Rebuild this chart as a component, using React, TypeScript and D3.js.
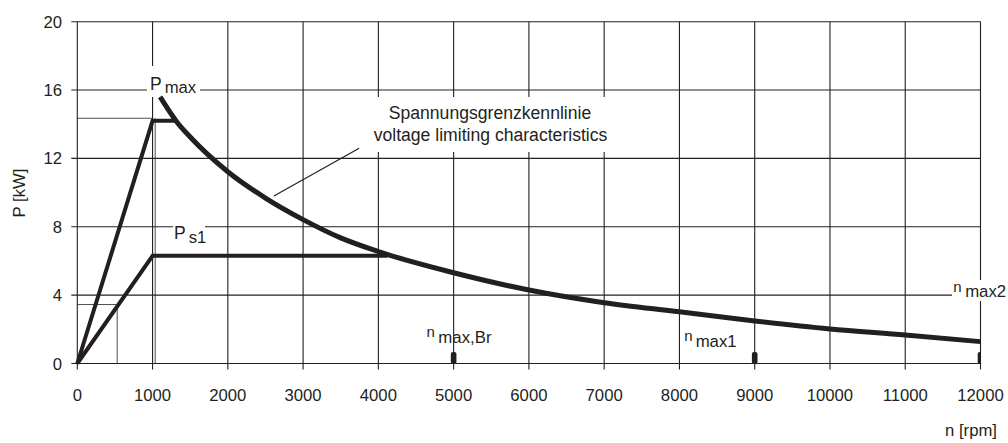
import React from 'react';
import * as d3 from 'd3';

// axis ticks
const xTicks = [0, 1000, 2000, 3000, 4000, 5000, 6000, 7000, 8000, 9000, 10000, 11000, 12000];
const yTicks = [0, 4, 8, 12, 16, 20];

// voltage limiting characteristic
const limitN = [1100, 1320, 1500, 2000, 2500, 3000, 3500, 4000, 5000, 6000, 7000, 8000, 9000, 10000, 11000, 12000];
const limitP = [15.6, 14.15, 13.25, 11.22, 9.68, 8.42, 7.35, 6.55, 5.31, 4.3, 3.56, 3.03, 2.49, 2.02, 1.67, 1.28];

// P max and P s1 curves
const pmaxN = [0, 1000, 1320];
const pmaxP = [0, 14.2, 14.2];
const ps1N = [0, 1000, 4120];
const ps1P = [0, 6.3, 6.3];

// max speed markers
const markerN = [5000, 9000, 12000];

const ink = '#231f20';
const font = '"Liberation Sans", Arial, sans-serif';

export default function App() {
  const x = d3.scaleLinear().domain([0, 12000]).range([77.3, 980.5]);
  const y = d3.scaleLinear().domain([0, 20]).range([363.5, 21.7]);

  const line = d3.line<[number, number]>().x(d => x(d[0])).y(d => y(d[1]));
  const smooth = d3
    .line<[number, number]>()
    .x(d => x(d[0]))
    .y(d => y(d[1]))
    .curve(d3.curveMonotoneX);

  const zip = (a: number[], b: number[]) => a.map((v, i) => [v, b[i]] as [number, number]);

  const x0 = x(0);
  const x1 = x(12000);
  const y0 = y(0);
  const y1 = y(20);

  return (
    <svg
      width={1008}
      height={443}
      style={{ position: 'absolute', left: 0, top: 0, background: '#fff' }}
      fontFamily={font}
    >
      <defs>
        <clipPath id="plot">
          <rect x={x0 - 10} y={y1} width={x1 - x0 + 10} height={y0 - y1 + 1} />
        </clipPath>
      </defs>

      {/* grid: vertical lines + ticks */}
      {xTicks.map(t => (
        <line key={'v' + t} x1={x(t)} x2={x(t)} y1={y1} y2={y0 + 6} stroke={ink} strokeWidth={1.1} />
      ))}
      {/* grid: horizontal lines + ticks */}
      {yTicks.map(t => (
        <line key={'h' + t} x1={x0 - 6} x2={x1} y1={y(t)} y2={y(t)} stroke={ink} strokeWidth={1.1} />
      ))}

      {/* thin guide lines */}
      <line x1={x0} x2={x(1000)} y1={y(14.35)} y2={y(14.35)} stroke={ink} strokeWidth={0.8} />
      <line x1={x(1035)} x2={x(1035)} y1={y(14.35)} y2={y0} stroke={ink} strokeWidth={0.8} />
      <line x1={x0} x2={x(530)} y1={y(3.45)} y2={y(3.45)} stroke={ink} strokeWidth={0.8} />
      <line x1={x(530)} x2={x(530)} y1={y(3.45)} y2={y0} stroke={ink} strokeWidth={0.8} />

      {/* white boxes behind labels */}
      <rect x={147} y={66} width={53} height={31} fill="#fff" />
      <rect x={173} y={222} width={32} height={22} fill="#fff" />
      <rect x={370} y={97} width={240} height={55} fill="#fff" />
      <rect x={952} y={280} width={56} height={21} fill="#fff" />

      {/* curves */}
      <path d={line(zip(pmaxN, pmaxP)) || ''} fill="none" stroke={ink} strokeWidth={4} strokeLinejoin="miter" />
      <path d={line(zip(ps1N, ps1P)) || ''} fill="none" stroke={ink} strokeWidth={4} strokeLinejoin="miter" />
      <path d={smooth(zip(limitN, limitP)) || ''} fill="none" stroke={ink} strokeWidth={5} />

      {/* leader line */}
      <line x1={x(3745)} y1={y(12.59)} x2={x(2612)} y2={y(9.8)} stroke={ink} strokeWidth={1.2} />

      {/* speed markers */}
      <g clipPath="url(#plot)">
        {markerN.map(n => (
          <rect key={n} x={x(n) - 2.8} y={y0 - 11.5} width={5.6} height={12} rx={2} fill={ink} />
        ))}
      </g>

      {/* tick labels */}
      {xTicks.map(t => (
        <text key={'xl' + t} x={x(t)} y={401} textAnchor="middle" fontSize={16.7} fill={ink}>
          {t}
        </text>
      ))}
      {yTicks.map(t => (
        <text key={'yl' + t} x={62} y={y(t)} dy="0.36em" textAnchor="end" fontSize={16.7} fill={ink}>
          {t}
        </text>
      ))}

      {/* axis titles */}
      <text x={997} y={436} textAnchor="end" fontSize={16.7} fill={ink}>
        n [rpm]
      </text>
      <text transform="translate(25,193) rotate(-90)" textAnchor="middle" fontSize={16.7} fill={ink}>
        P [kW]
      </text>

      {/* annotations */}
      <text x={490} y={119} textAnchor="middle" fontSize={17.6} fill={ink}>
        Spannungsgrenzkennlinie
      </text>
      <text x={490.5} y={141} textAnchor="middle" fontSize={17.6} fill={ink}>
        voltage limiting characteristics
      </text>

      <text x={150} y={90} fontSize={17.5} fill={ink}>
        P<tspan dx={3} dy={3.3} fontSize={16.7}>max</tspan>
      </text>
      <text x={174} y={239.3} fontSize={17.5} fill={ink}>
        P<tspan dx={3} dy={4} fontSize={16.7}>s1</tspan>
      </text>
      <text x={426.5} y={336.7} fontSize={15} fill={ink}>
        n<tspan dx={3.5} dy={6} fontSize={16.8}>max,Br</tspan>
      </text>
      <text x={684.3} y={340.7} fontSize={15} fill={ink}>
        n<tspan dx={3} dy={6} fontSize={16.8}>max1</tspan>
      </text>
      <text x={953.3} y={291.5} fontSize={15} fill={ink}>
        n<tspan dx={3.5} dy={5.8} fontSize={16.8}>max2</tspan>
      </text>
    </svg>
  );
}
